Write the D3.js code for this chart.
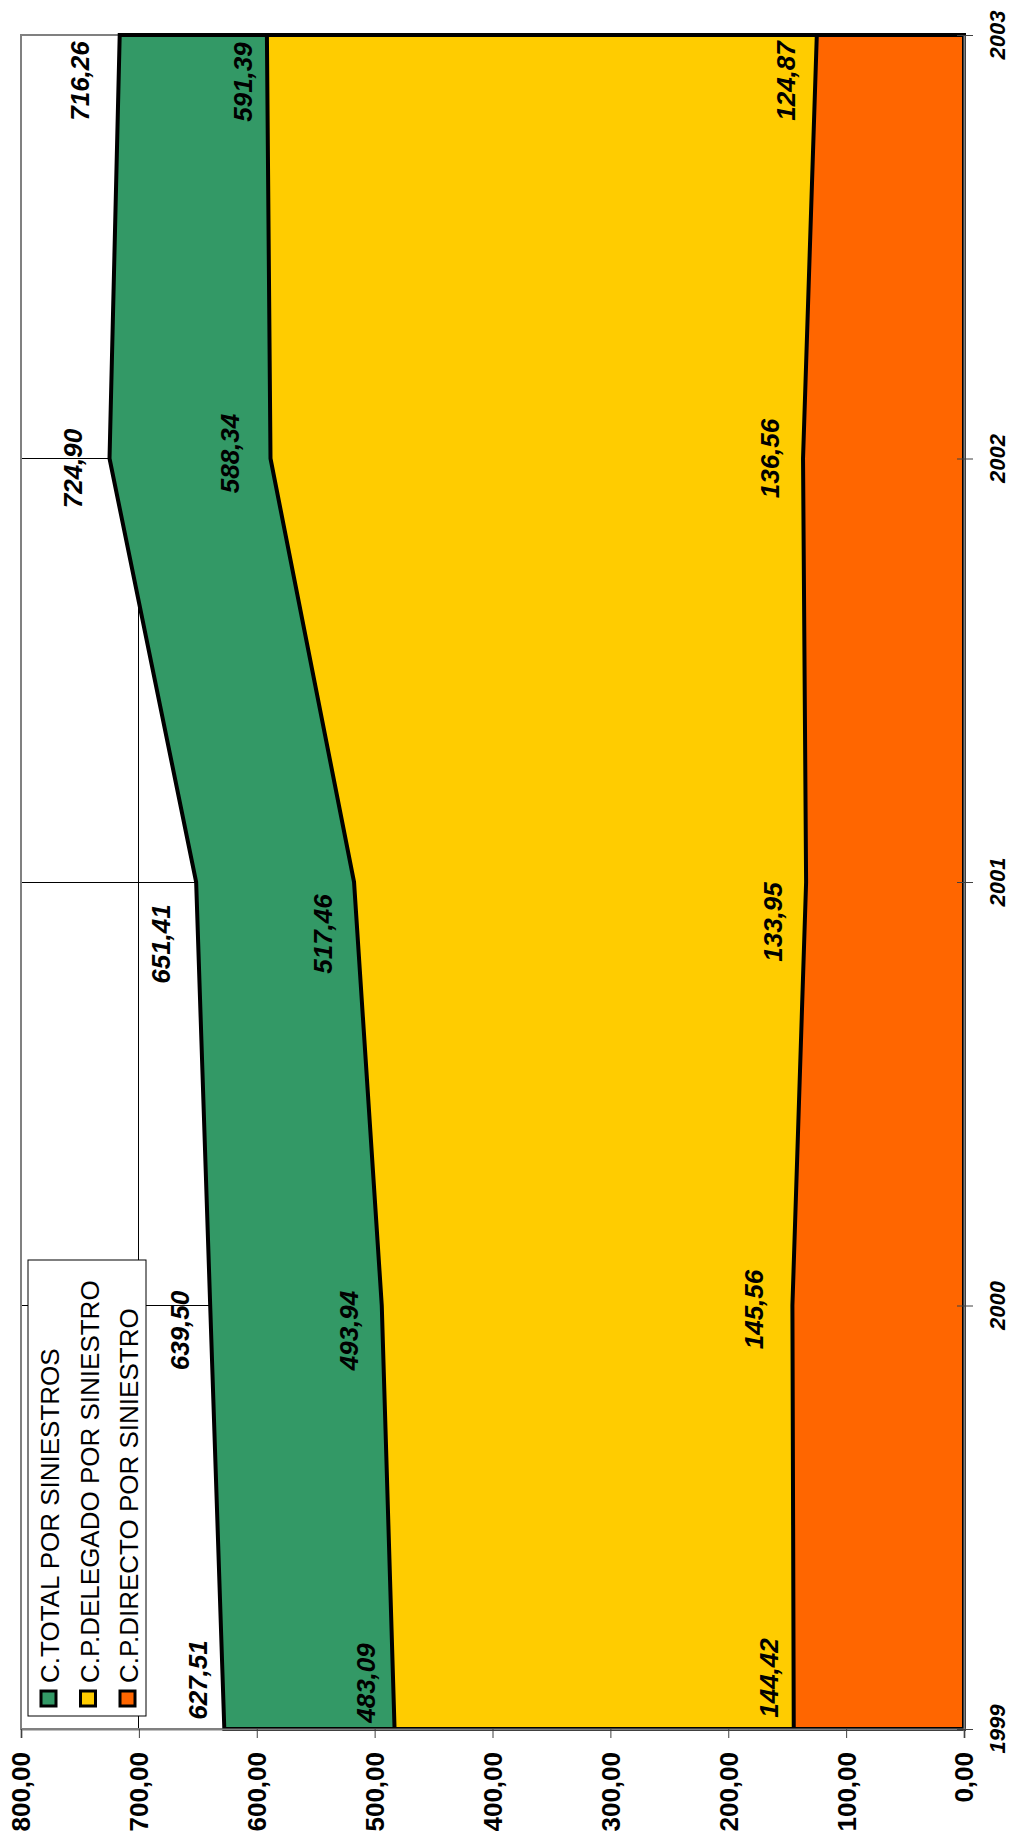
<!DOCTYPE html>
<html><head><meta charset="utf-8">
<script src="https://cdn.jsdelivr.net/npm/d3@7"></script>
<style>html,body{margin:0;padding:0;background:#fff}svg{display:block}</style>
</head><body>
<script>
// ---- data ----
const years = ["1999", "2000", "2001", "2002", "2003"];
const totalValues = [627.51, 639.50, 651.41, 724.90, 716.26];
const delegadoValues = [483.09, 493.94, 517.46, 588.34, 591.39];
const directoValues = [144.42, 145.56, 133.95, 136.56, 124.87];
const seriesNames = ["C.TOTAL POR SINIESTROS", "C.P.DELEGADO POR SINIESTRO", "C.P.DIRECTO POR SINIESTRO"];
const valueTicks = [0, 100, 200, 300, 400, 500, 600, 700, 800];

// ---- layout / style (not data) ----
const W = 1013, H = 1834;
const plot = {left: 21, right: 964, top: 35, bottom: 1729};
const colors = ["#339966", "#FFCC00", "#FF6600"];
const FONT = "'Liberation Sans', Arial, sans-serif";
// label nudges along the category direction (px) and gap from the line (px)
const labelAlong = [
  [-49, 25, 62, 10, 46],
  [-46, 25, 52, -5, 47],
  [-51, 4, 40, 0, 46]
];
const labelGap = [
  [17, 21, 26, 28, 31],
  [20, 24, 22, 31, 15],
  [16, 29, 24, 24, 22]
];

const series = [totalValues, delegadoValues, directoValues];
const fmt = v => d3.format(".2f")(v).replace(".", ",");

const svg = d3.select("body").append("svg").attr("width", W).attr("height", H);
svg.append("rect").attr("width", W).attr("height", H).attr("fill", "#fff");

const xVal = d3.scaleLinear().domain([0, 800]).range([plot.right, plot.left]);
const yCat = d3.scalePoint().domain(years).range([plot.bottom, plot.top]);

// gridlines
const grid = svg.append("g").attr("stroke", "#000").attr("stroke-width", 1).attr("shape-rendering", "crispEdges");
grid.selectAll("line.v").data(valueTicks.filter(v => v > 0 && v < 800)).enter().append("line")
  .attr("x1", d => xVal(d)).attr("x2", d => xVal(d)).attr("y1", plot.top).attr("y2", plot.bottom);
grid.selectAll("line.h").data(years.slice(1, -1)).enter().append("line")
  .attr("y1", d => yCat(d)).attr("y2", d => yCat(d)).attr("x1", plot.left).attr("x2", plot.right);

// plot border
svg.append("rect").attr("x", plot.left).attr("y", plot.top)
  .attr("width", plot.right - plot.left).attr("height", plot.bottom - plot.top)
  .attr("fill", "none").attr("stroke", "#808080").attr("stroke-width", 2);

// areas
const area = d3.area()
  .y((d, i) => yCat(years[i]))
  .x0(xVal(0))
  .x1(d => xVal(d));
series.forEach((vals, s) => {
  svg.append("path").datum(vals).attr("d", area)
    .attr("fill", colors[s]).attr("stroke", "#000").attr("stroke-width", 4)
    .attr("stroke-linejoin", "miter");
});

// value axis (bottom)
const axB = svg.append("g").attr("transform", `translate(0,${plot.bottom})`)
  .call(d3.axisBottom(xVal).tickValues(valueTicks).tickSize(9).tickFormat(""));
axB.select(".domain").attr("stroke", "#808080").attr("stroke-width", 2);
axB.selectAll(".tick line").attr("stroke", "#404040");
svg.append("g").selectAll("text").data(valueTicks).enter().append("text")
  .attr("transform", d => `translate(${xVal(d)},${plot.bottom + 23}) rotate(-90)`)
  .attr("text-anchor", "end").attr("dy", "0.36em")
  .attr("font-family", FONT).attr("font-weight", "bold").attr("font-size", 26)
  .text(d => fmt(d));

// category axis (right)
const axR = svg.append("g").attr("transform", `translate(${plot.right},0)`)
  .call(d3.axisRight(yCat).tickSize(9).tickSizeOuter(0).tickFormat(""));
axR.select(".domain").attr("stroke", "#808080").attr("stroke-width", 2);
axR.selectAll(".tick line").attr("stroke", "#404040").attr("x1", -7);
svg.append("g").selectAll("text").data(years).enter().append("text")
  .attr("transform", d => `translate(${plot.right + 41},${yCat(d)}) rotate(-90)`)
  .attr("text-anchor", "middle")
  .attr("font-family", FONT).attr("font-style", "italic").attr("font-weight", "bold").attr("font-size", 22)
  .text(d => d);

// data labels
series.forEach((vals, s) => {
  svg.append("g").selectAll("text").data(vals).enter().append("text")
    .attr("transform", (d, i) => `translate(${xVal(d) - labelGap[s][i]},${yCat(years[i]) + labelAlong[s][i]}) rotate(-90)`)
    .attr("text-anchor", "middle")
    .attr("font-family", FONT).attr("font-weight", "bold").attr("font-style", "italic").attr("font-size", 26)
    .text(d => fmt(d));
});

// legend
const lg = svg.append("g");
lg.append("rect").attr("x", 28).attr("y", 1260).attr("width", 118).attr("height", 456)
  .attr("fill", "#fff").attr("stroke", "#000").attr("stroke-width", 1);
seriesNames.forEach((name, s) => {
  const bx = 59 + s * 39.5;
  lg.append("rect").attr("x", bx - 18).attr("y", 1691).attr("width", 15).attr("height", 15)
    .attr("fill", colors[s]).attr("stroke", "#000").attr("stroke-width", 3);
  lg.append("text").attr("transform", `translate(${bx},1683) rotate(-90)`)
    .attr("font-family", FONT).attr("font-size", 26).text(name);
});
</script>
</body></html>
